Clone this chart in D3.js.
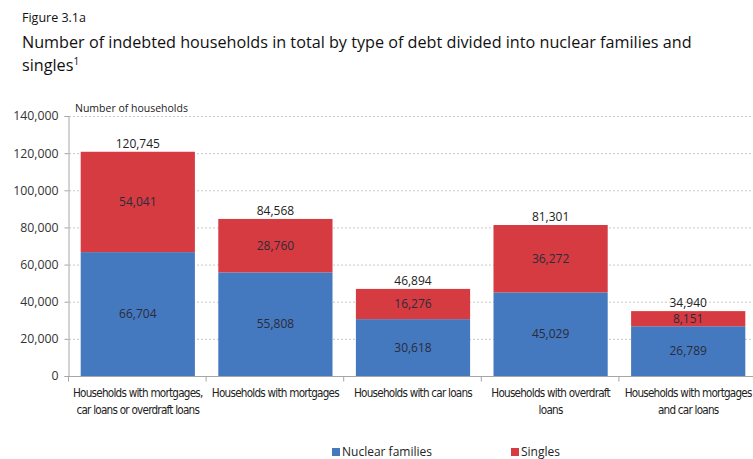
<!DOCTYPE html>
<html>
<head>
<meta charset="utf-8">
<script src="https://cdn.jsdelivr.net/npm/d3@7"></script>
<style>
  body { margin: 0; background: #fff; }
  svg { display: block; }
</style>
</head>
<body>
<svg id="chart" width="753" height="459"></svg>
<script>
// Household debt by type, split into nuclear families and singles
const categories = [
  ["Households with mortgages,", "car loans or overdraft loans"],
  ["Households with mortgages"],
  ["Households with car loans"],
  ["Households with overdraft", "loans"],
  ["Households with mortgages", "and car loans"]
];
const nuclearFamilies = [66704, 55808, 30618, 45029, 26789];
const singles = [54041, 28760, 16276, 36272, 8151];
const totals = [120745, 84568, 46894, 81301, 34940];
const yTicks = [0, 20000, 40000, 60000, 80000, 100000, 120000, 140000];
const seriesNames = ["Nuclear families", "Singles"];
const colors = ["#4479bf", "#d63b42"];

const svg = d3.select("#chart");
const fmt = d3.format(",");
const font = "'Open Sans', 'Noto Sans', sans-serif";
const narrow = "'Liberation Sans Narrow', 'DejaVu Sans Condensed', sans-serif";

// Titles
svg.append("text").attr("x", 22).attr("y", 22)
  .attr("font-family", font).attr("font-size", 12.5).attr("fill", "#111")
  .text("Figure 3.1a");
const title = svg.append("text").attr("font-family", font).attr("font-size", 16.2).attr("fill", "#111");
title.append("tspan").attr("x", 22).attr("y", 48)
  .text("Number of indebted households in total by type of debt divided into nuclear families and");
title.append("tspan").attr("x", 22).attr("y", 71).text("singles");
title.append("tspan").attr("dy", -6).attr("font-size", 10).text("1");

const x = d3.scaleBand().domain(d3.range(categories.length)).range([69, 757]).paddingInner(0.17).paddingOuter(0.085);
const y = d3.scaleLinear().domain([0, 140000]).range([376, 116]);

// Gridlines
svg.append("g").selectAll("line").data(yTicks.filter(d => d > 0)).join("line")
  .attr("x1", 69).attr("x2", 753)
  .attr("y1", d => y(d) + 0.5).attr("y2", d => y(d) + 0.5)
  .attr("stroke", "#c8c8c8").attr("stroke-dasharray", "2,2");

// Y axis
const yAxis = svg.append("g").attr("transform", "translate(68.5,0)")
  .call(d3.axisLeft(y).tickValues(yTicks).tickFormat(fmt).tickSize(4).tickPadding(6));
yAxis.select(".domain").attr("stroke", "#a6a6a6");
yAxis.selectAll(".tick line").attr("stroke", "#a6a6a6");
yAxis.selectAll("text").attr("font-family", font).attr("font-size", 12.3).attr("fill", "#333");

svg.append("text").attr("x", 75).attr("y", 112)
  .attr("font-family", font).attr("font-size", 10.5).attr("fill", "#222")
  .text("Number of households");

// Stacked bars
const rows = categories.map((c, i) => ({ i, values: [nuclearFamilies[i], singles[i]] }));
const stack = d3.stack().keys([0, 1]).value((d, k) => d.values[k]);
const layers = stack(rows);

layers.forEach((layer, k) => {
  const g = svg.append("g");
  g.selectAll("rect").data(layer).join("rect")
    .attr("x", d => x(d.data.i))
    .attr("width", x.bandwidth())
    .attr("y", d => y(d[1]))
    .attr("height", d => y(d[0]) - y(d[1]))
    .attr("fill", colors[k]);
  g.selectAll("text").data(layer).join("text")
    .attr("x", d => x(d.data.i) + x.bandwidth() / 2)
    .attr("y", d => (y(d[0]) + y(d[1])) / 2 + 4)
    .attr("text-anchor", "middle")
    .attr("font-family", font).attr("font-size", 12).attr("fill", "#2b2b3a")
    .text(d => fmt(d.data.values[k]));
});

// Totals above bars
svg.append("g").selectAll("text").data(totals).join("text")
  .attr("x", (d, i) => x(i) + x.bandwidth() / 2)
  .attr("y", d => y(d) - 4)
  .attr("text-anchor", "middle")
  .attr("font-family", font).attr("font-size", 12).attr("fill", "#222")
  .text(d => fmt(d));

// X axis
const xAxisG = svg.append("g").attr("transform", "translate(0,376.5)");
xAxisG.append("line").attr("x1", 68).attr("x2", 753).attr("stroke", "#a6a6a6");
const step = x.step();
xAxisG.selectAll("line.sep").data(d3.range(categories.length + 1)).join("line")
  .attr("class", "sep")
  .attr("x1", i => 68.5 + i * step).attr("x2", i => 68.5 + i * step)
  .attr("y1", 0).attr("y2", 5).attr("stroke", "#a6a6a6");
const labels = xAxisG.selectAll("text").data(categories).join("text")
  .attr("text-anchor", "middle")
  .attr("font-family", narrow).attr("font-size", 11.6).attr("fill", "#222")
  .attr("letter-spacing", -0.75);
labels.each(function(lines, i) {
  const t = d3.select(this);
  lines.forEach((ln, j) => {
    t.append("tspan").attr("x", x(i) + x.bandwidth() / 2).attr("y", 20 + j * 17).text(ln);
  });
});

// Legend
const legend = svg.append("g");
const legendX = [332, 511];
seriesNames.forEach((name, k) => {
  legend.append("rect").attr("x", legendX[k]).attr("y", 448).attr("width", 8).attr("height", 8).attr("fill", colors[k]);
  legend.append("text").attr("x", legendX[k] + 10).attr("y", 456)
    .attr("font-family", font).attr("font-size", 12).attr("fill", "#222").text(name);
});
</script>
</body>
</html>
